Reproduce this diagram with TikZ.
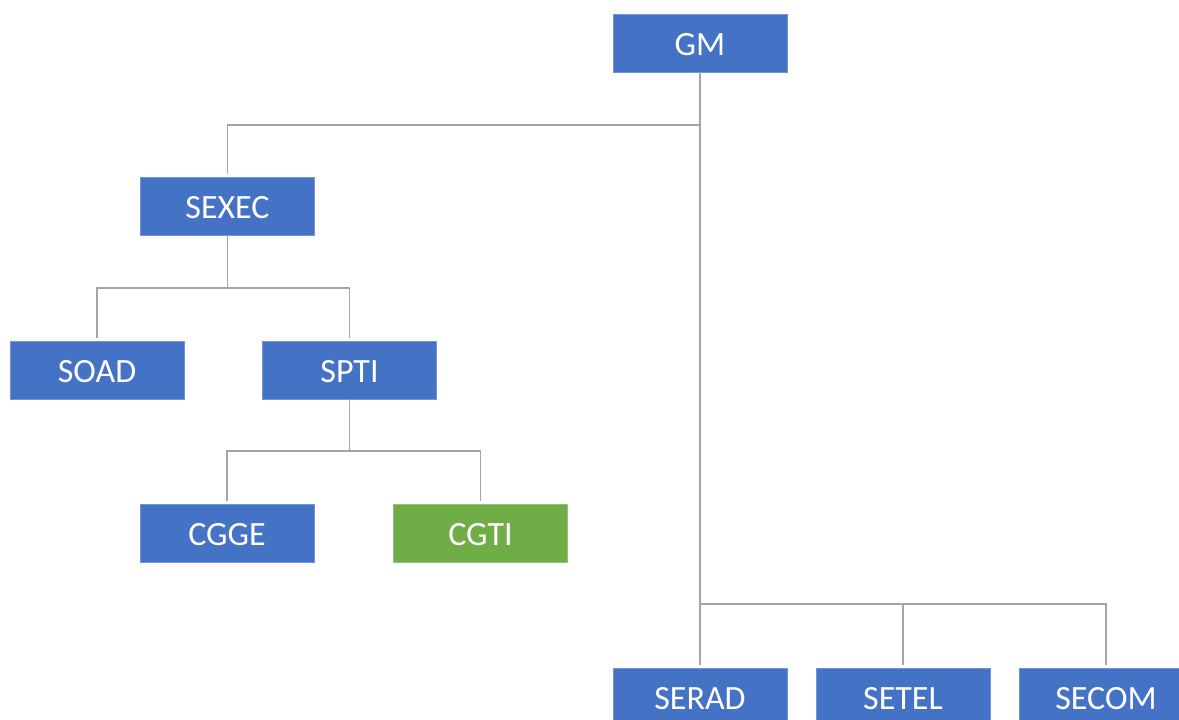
\documentclass[tikz,border=0pt]{standalone}
\usepackage{fontspec}
\setmainfont{Carlito}
\definecolor{boxblue}{HTML}{4472C4}
\definecolor{boxgreen}{HTML}{70AD47}
\definecolor{linegray}{HTML}{A5A5A5}
\begin{document}
\begin{tikzpicture}[x=1pt,y=-1pt,
  orgbox/.style={fill=boxblue, draw=boxblue!75!white, line width=0.6pt,
    minimum width=174pt, minimum height=58pt, inner sep=0pt, text=white,
    font=\fontsize{34}{38}\selectfont, text height=24pt, text depth=-2pt},
  greenbox/.style={orgbox, fill=boxgreen, draw=boxgreen!75!white},
  link/.style={draw=linegray, line width=1.8pt, shorten >=3pt}]
\useasboundingbox (0,0) rectangle (1179,720);
\clip (0,0) rectangle (1179,720);
\node[orgbox] (gm) at (700,43) {GM};
\node[orgbox] (sexec) at (227.5,206) {SEXEC};
\node[orgbox] (soad) at (97,370) {SOAD};
\node[orgbox] (spti) at (349.5,370) {SPTI};
\node[orgbox] (cgge) at (227,533.5) {CGGE};
\node[greenbox] (cgti) at (480.5,533.5) {CGTI};
\node[orgbox] (serad) at (700,697) {SERAD};
\node[orgbox] (setel) at (903,697) {SETEL};
\node[orgbox] (secom) at (1106,697) {SECOM};
\coordinate (jgm) at (700,125);
\coordinate (jbot) at (700,604);
\coordinate (jsexec) at (227.5,288);
\coordinate (jspti) at (349.5,451);
\draw[link] (gm.south) -- (jgm) -| (sexec.north);
\draw[link, shorten >=0pt] (jgm) -- (jbot);
\draw[link] (jbot) -| (serad.north);
\draw[link] (jbot) -| (setel.north);
\draw[link] (jbot) -| (secom.north);
\draw[link] (sexec.south) -- (jsexec) -| (soad.north);
\draw[link] (jsexec) -| (spti.north);
\draw[link] (spti.south) -- (jspti) -| (cgge.north);
\draw[link] (jspti) -| (cgti.north);
\end{tikzpicture}
\end{document}
